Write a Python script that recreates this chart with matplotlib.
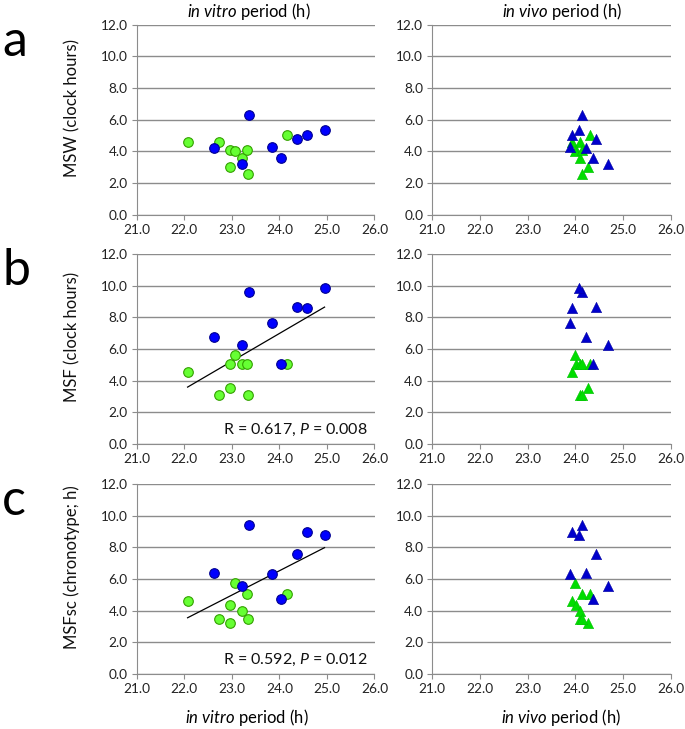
import matplotlib
matplotlib.use('Agg')
import matplotlib.pyplot as plt
import numpy as np

plt.rcParams['font.family'] = ['Lato', 'DejaVu Sans']
plt.rcParams['mathtext.fontset'] = 'custom'
plt.rcParams['mathtext.rm'] = 'Lato'
plt.rcParams['mathtext.it'] = 'Lato:italic'

# green group (9 subjects)
vitro_g = [22.07, 22.72, 22.97, 22.97, 23.07, 23.21, 23.31, 23.33, 24.15]
vivo_g = [23.94, 24.10, 24.27, 24.01, 24.00, 24.10, 24.15, 24.13, 24.30]
msw_g = [4.60, 4.57, 3.04, 4.08, 4.02, 3.55, 4.10, 2.58, 5.05]
msf_g = [4.57, 3.09, 3.54, 5.05, 5.60, 5.03, 5.07, 3.09, 5.03]
msfsc_g = [4.59, 3.45, 3.20, 4.36, 5.73, 3.98, 5.07, 3.45, 5.03]

# blue group (8 subjects)
vitro_b = [22.63, 23.21, 23.36, 23.84, 24.03, 24.38, 24.58, 24.95]
vivo_b = [24.22, 24.69, 24.14, 23.89, 24.36, 24.44, 23.92, 24.08]
msw_b = [4.23, 3.23, 6.31, 4.30, 3.56, 4.80, 5.05, 5.35]
msf_b = [6.76, 6.23, 9.61, 7.62, 5.07, 8.66, 8.58, 9.88]
msfsc_b = [6.40, 5.56, 9.42, 6.34, 4.73, 7.60, 8.94, 8.81]

ylabels = ['MSW (clock hours)', 'MSF (clock hours)', 'MSFsc (chronotype; h)']
letters = ['a', 'b', 'c']
stats = [None, 'R = 0.617, $P$ = 0.008', 'R = 0.592, $P$ = 0.012']
xticks = [21, 22, 23, 24, 25, 26]
yticks = [0, 2, 4, 6, 8, 10, 12]

W, H = 685, 729
fig = plt.figure(figsize=(W / 100, H / 100), dpi=100)

gray = '#8c8c8c'
rows_g = [msw_g, msf_g, msfsc_g]
rows_b = [msw_b, msf_b, msfsc_b]
tops = [24.7, 254, 484]
ax_h = 190


def style(ax):
    ax.set_xlim(21, 26)
    ax.set_ylim(0, 12)
    ax.set_xticks(xticks)
    ax.set_yticks(yticks)
    ax.set_xticklabels(['%.1f' % v for v in xticks])
    ax.set_yticklabels(['%.1f' % v for v in yticks])
    ax.yaxis.grid(True, color=gray, lw=1)
    ax.set_axisbelow(True)
    for s in ['top', 'right']:
        ax.spines[s].set_visible(False)
    for s in ['left', 'bottom']:
        ax.spines[s].set_color(gray)
    ax.tick_params(direction='out', length=3.5, width=0.8, color=gray,
                   labelsize=9.8, labelcolor='#222222', pad=3)


for i in range(3):
    top = tops[i]
    b = (H - top - ax_h) / H
    h = ax_h / H
    axl = fig.add_axes([136.7 / W, b, 237.8 / W, h])
    axr = fig.add_axes([432.3 / W, b, 238.4 / W, h])
    for ax in (axl, axr):
        style(ax)

    axl.scatter(vitro_g, rows_g[i], s=48, c='#66ff33', edgecolors='#33a000',
                linewidths=0.8, zorder=3)
    axl.scatter(vitro_b, rows_b[i], s=48, c='#0000ff', edgecolors='#000090',
                linewidths=0.8, zorder=3)
    axr.scatter(vivo_g, rows_g[i], s=55, marker='^', c='#00dd00',
                edgecolors='#00c000', linewidths=0.4, zorder=3)
    axr.scatter(vivo_b, rows_b[i], s=55, marker='^', c='#0000cc',
                edgecolors='#0000a0', linewidths=0.4, zorder=3)

    if stats[i]:
        xs = np.array(vitro_g + vitro_b)
        ys = np.array(rows_g[i] + rows_b[i])
        k, c0 = np.polyfit(xs, ys, 1)
        xx = np.array([xs.min(), xs.max()])
        axl.plot(xx, k * xx + c0, color='black', lw=0.9, zorder=2)
        axl.text(25.85, 0.9, stats[i], ha='right', va='center', fontsize=11.5,
                 color='#111111')

    fig.text(72 / W, 1 - (top + 95 - 12) / H, ylabels[i], rotation=90,
             ha='center', va='center', fontsize=12, color='#111111')
    fig.text(2 / W, 1 - (top + 31) / H, letters[i], ha='left', va='baseline',
             fontsize=36, color='black')

top_l = r'$\mathit{in\ vitro}$ period (h)'
top_r = r'$\mathit{in\ vivo}$ period (h)'
fs = 12
fig.text(249 / W, 1 - 12 / H, top_l, ha='center', va='center', fontsize=fs)
fig.text(562 / W, 1 - 12 / H, top_r, ha='center', va='center', fontsize=fs)
fig.text(247 / W, 1 - 717 / H, top_l, ha='center', va='center', fontsize=fs)
fig.text(561 / W, 1 - 717 / H, top_r, ha='center', va='center', fontsize=fs)

fig.savefig('out.png', dpi=100, facecolor='white')
